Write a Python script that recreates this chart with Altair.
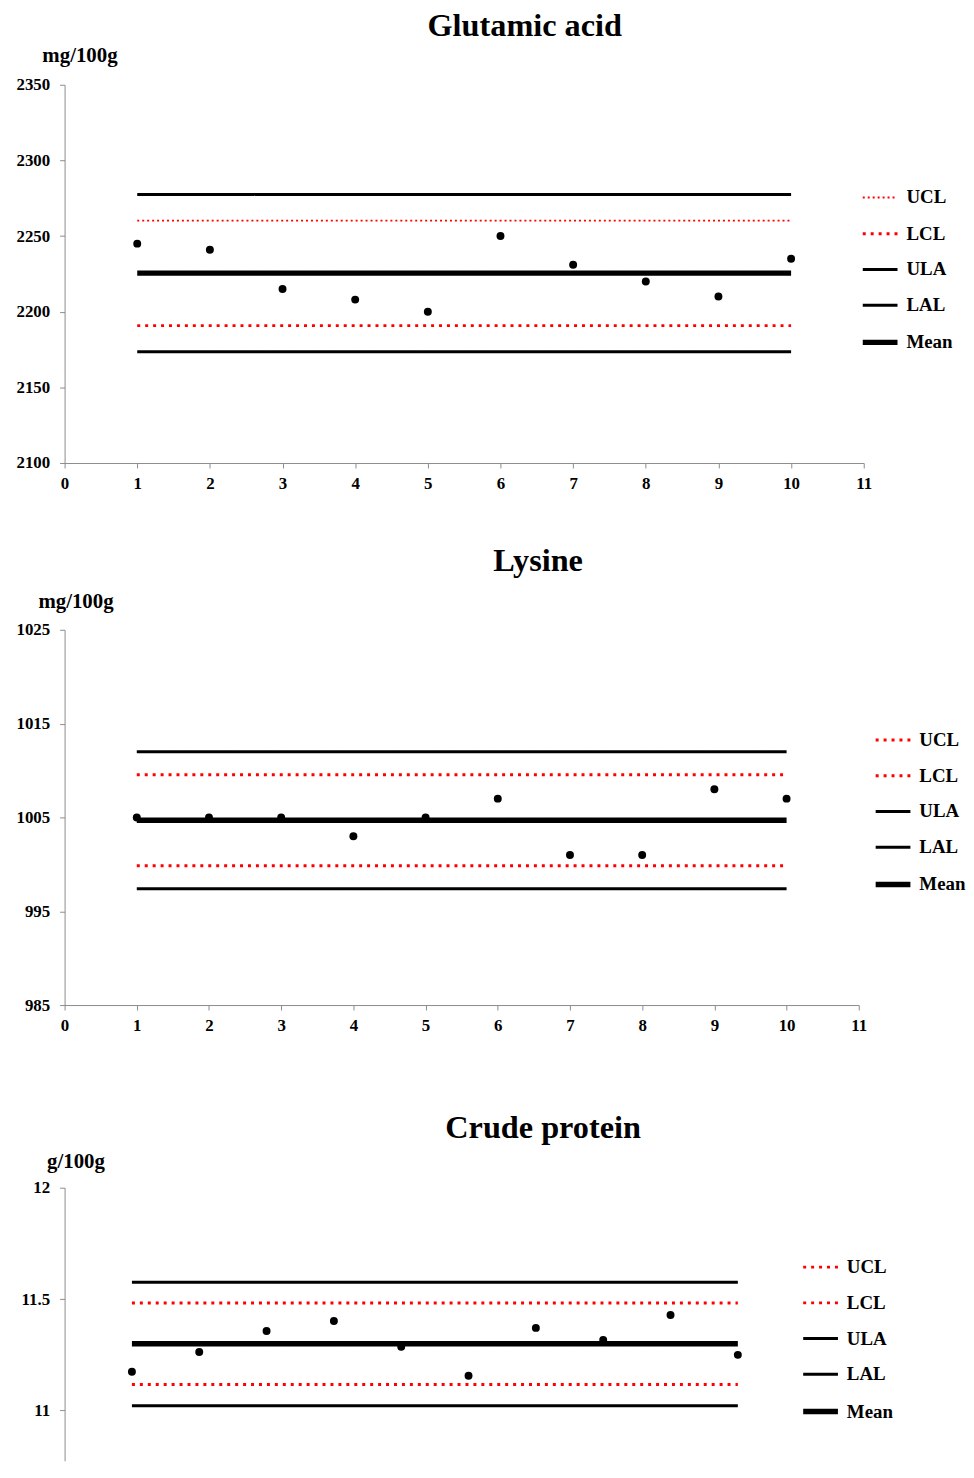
import altair as alt
import pandas as pd

FONT = "Liberation Serif"

series = ["UCL", "LCL", "ULA", "LAL", "Mean"]
runs = [1, 2, 3, 4, 5, 6, 7, 8, 9, 10]
line_start = 1
line_end = 10

glu_values = [2245, 2241, 2215, 2208, 2200, 2250, 2231, 2220, 2210, 2235]
glu_limits = [2260.2, 2190.8, 2277.5, 2173.5, 2225.5]

lys_values = [1005, 1005, 1005, 1003, 1005, 1007, 1001, 1001, 1008, 1007]
lys_limits = [1009.55, 999.85, 1012.0, 997.4, 1004.7]

cp_values = [11.174, 11.263, 11.357, 11.402, 11.286, 11.156, 11.371, 11.317, 11.429, 11.25]
cp_limits = [11.483, 11.117, 11.576, 11.022, 11.30]

x_ticks = list(range(0, 12))
glu_ticks = [2100, 2150, 2200, 2250, 2300, 2350]
lys_ticks = [985, 995, 1005, 1015, 1025]
cp_ticks = [11, 11.5, 12]

colors = ["#ff0000", "#ff0000", "#000000", "#000000", "#000000"]


def panel(title, title_dx, title_offset, unit, unit_x, unit_y, values, limits,
          ydomain, yticks, yfmt, width, height, leg_x, leg_y, dashes, widths,
          show_x=True, x_title=None, x_title_pad=0):
    lim_df = pd.DataFrame({"series": series, "value": limits,
                           "start": [line_start] * 5, "end": [line_end] * 5})
    pt_df = pd.DataFrame({"run": runs, "val": values})

    if show_x:
        xaxis = alt.Axis(values=x_ticks, title=x_title if x_title else None,
                         titlePadding=x_title_pad, titleFontSize=4,
                         labelFont=FONT, labelFontSize=17, labelFontWeight="bold",
                         labelColor="black", labelPadding=8, tickSize=5,
                         domainColor="#8c8c8c", tickColor="#8c8c8c", grid=False,
                         labelFlush=False)
    else:
        xaxis = None
    yaxis = alt.Axis(values=yticks, format=yfmt, title=unit, titleAngle=0,
                     titleX=unit_x, titleY=unit_y, titleAlign="center",
                     titleBaseline="alphabetic", titleFont=FONT, titleFontSize=21,
                     titleFontWeight="bold", titleColor="black",
                     labelFont=FONT, labelFontSize=17, labelFontWeight="bold",
                     labelColor="black", labelPadding=10, tickSize=5,
                     domainColor="#8c8c8c", tickColor="#8c8c8c", grid=False,
                     labelFlush=False)
    xs = alt.Scale(domain=[0, 11], nice=False, zero=False)
    ys = alt.Scale(domain=ydomain, nice=False, zero=False)

    leg = alt.Legend(orient="none", legendX=leg_x, legendY=leg_y, title=None,
                     symbolType="stroke", symbolSize=1225, labelFont=FONT,
                     labelFontSize=19, labelFontWeight="bold", labelColor="black",
                     rowPadding=7, labelOffset=6, padding=0)

    rules = alt.Chart(lim_df).mark_rule().encode(
        x=alt.X("start:Q", scale=xs, axis=xaxis),
        x2="end:Q",
        y=alt.Y("value:Q", scale=ys, axis=yaxis),
        color=alt.Color("series:O",
                        scale=alt.Scale(type="ordinal", domain=series, range=colors),
                        sort=series, legend=leg),
        strokeDash=alt.StrokeDash("series:O",
                                  scale=alt.Scale(type="ordinal", domain=series, range=dashes),
                                  sort=series, legend=leg),
        strokeWidth=alt.StrokeWidth("series:O",
                                    scale=alt.Scale(type="ordinal", domain=series, range=widths),
                                    sort=series, legend=leg),
    )
    pts = alt.Chart(pt_df).mark_circle(size=64, color="black", opacity=1).encode(
        x=alt.X("run:Q", scale=xs, axis=xaxis),
        y=alt.Y("val:Q", scale=ys, axis=yaxis),
    )
    return alt.layer(rules, pts).properties(
        width=width, height=height,
        title=alt.TitleParams(text=title, font=FONT, fontSize=32.5, fontWeight="bold",
                              color="black", anchor="middle", frame="group",
                              dx=title_dx, offset=title_offset),
    )


thin_dot = [2, 3]
thick_dot = [3, 5]
solid = [1, 0]

c1 = panel("Glutamic acid", 61, 3, "mg/100g", 15, -23, glu_values, glu_limits,
           [2100, 2350], glu_ticks, "d", 805, 381, 801, 95,
           [thin_dot, thick_dot, solid, solid, solid], [2, 3, 3, 3, 5.5])
c2 = panel("Lysine", 77, 14, "mg/100g", 11, -22, lys_values, lys_limits,
           [985, 1025], lys_ticks, "d", 800, 378, 814, 92,
           [thick_dot, thick_dot, solid, solid, solid], [3, 3, 3, 3, 5.5],
           x_title=" ", x_title_pad=21)
c3 = panel("Crude protein", 109, 7, "g/100g", 11, -20, cp_values, cp_limits,
           [10.775, 12], cp_ticks, ".1~f", 746, 275, 741, 61,
           [thick_dot, thick_dot, solid, solid, solid], [3, 3, 3, 3, 5.5],
           show_x=False)

chart = alt.vconcat(c1, c2, c3, spacing=53).resolve_scale(
    x="independent", y="independent", color="independent",
    strokeDash="independent", strokeWidth="independent"
).resolve_legend(
    color="independent", strokeDash="independent", strokeWidth="independent"
).properties(
    padding={"left": 8, "top": -4, "right": 0, "bottom": 0}, background="white"
).configure_view(stroke=None)

chart.save("out.html", embed_options={"renderer": "svg", "actions": False})
